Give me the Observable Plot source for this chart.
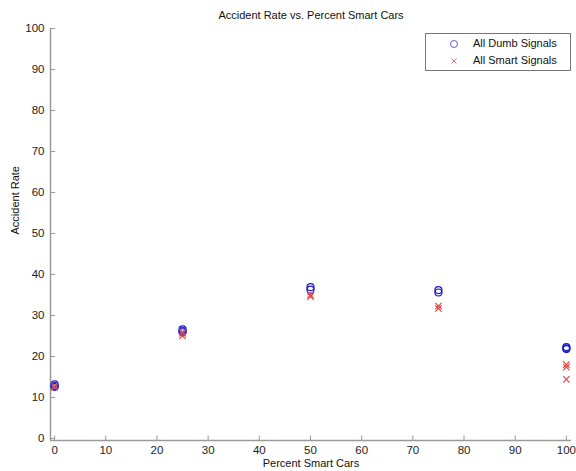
<!DOCTYPE html>
<html>
<head>
<meta charset="utf-8">
<script src="https://cdn.jsdelivr.net/npm/d3@7"></script>
<script src="https://cdn.jsdelivr.net/npm/@observablehq/plot@0.6"></script>
<style>
  html, body { margin: 0; padding: 0; background: #fff; }
  #wrap { position: relative; width: 576px; height: 471px; font-family: "Liberation Sans", Arial, sans-serif; }
  #legend { position: absolute; left: 425px; top: 33px; width: 144px; height: 36px; border: 1px solid #777; background: #fff; font-size: 11px; color: #111; }
  .row { position: absolute; left: 0; height: 17px; line-height: 17px; }
  .row svg { position: absolute; left: 22px; top: 3px; }
  .row span { position: absolute; left: 47px; white-space: nowrap; }
</style>
</head>
<body>
<div id="wrap"></div>
<script>
// Data
const percentSmart = [0, 25, 50, 75, 100];
const dumbX = [0, 0, 0, 25, 25, 25, 50, 50, 75, 75, 100, 100, 100];
const dumbY = [13.2, 12.8, 12.6, 26.6, 26.2, 25.9, 36.9, 36.3, 36.2, 35.6, 22.3, 22.0, 21.8];
const smartX = [0, 0, 25, 25, 25, 50, 50, 75, 75, 100, 100, 100];
const smartY = [12.9, 12.5, 26.0, 25.6, 25.0, 35.0, 34.6, 32.3, 31.7, 18.0, 17.4, 14.4];
const xTicks = [0, 10, 20, 30, 40, 50, 60, 70, 80, 90, 100];
const yTicks = [0, 10, 20, 30, 40, 50, 60, 70, 80, 90, 100];
const seriesNames = ["All Dumb Signals", "All Smart Signals"];
const title = "Accident Rate vs. Percent Smart Cars";
const xLabel = "Percent Smart Cars";
const yLabel = "Accident Rate";

const dumb = dumbX.map((x, i) => ({x, y: dumbY[i]}));
const smart = smartX.map((x, i) => ({x, y: smartY[i]}));

const blue = "#1a1acc";
const red = "#e0403c";
const axisGray = "#9a9a9a";

const chart = Plot.plot({
  width: 576,
  height: 471,
  marginLeft: 50,
  marginRight: 5,
  marginTop: 28,
  marginBottom: 31,
  style: {fontFamily: "Liberation Sans, Arial, sans-serif", fontSize: "11.5px", color: "#222", background: "#fff"},
  x: {domain: [-0.8, 101], ticks: xTicks},
  y: {domain: [-0.5, 100], ticks: yTicks},
  marks: [
    // axis lines
    Plot.ruleX([-0.8], {stroke: axisGray, strokeWidth: 1.5}),
    Plot.ruleY([-0.5], {stroke: axisGray, strokeWidth: 1.5}),
    // inward ticks
    Plot.ruleX(xTicks, {x: d => d, y1: -0.5, y2: 0.6, stroke: axisGray}),
    Plot.ruleY(yTicks, {y: d => d, x1: -0.8, x2: 0.2, stroke: axisGray}),
    Plot.axisX({ticks: xTicks, tickSize: 0, tickPadding: 5, label: null, fill: "#222"}),
    Plot.axisY({ticks: yTicks, tickSize: 0, tickPadding: 6, label: null, fill: "#222"}),
    // data
    Plot.dot(dumb, {x: "x", y: "y", r: 3.5, stroke: blue, strokeWidth: 1.2, fill: "none"}),
    Plot.dot(smart, {x: "x", y: "y", r: 3, symbol: "times", stroke: red, strokeWidth: 1.1}),
    // title and labels
    Plot.text([title], {frameAnchor: "top", dy: -17, fontSize: 11, fill: "#111"}),
    Plot.text([xLabel], {frameAnchor: "bottom", dy: 26, fontSize: 11, fill: "#111"}),
    Plot.text([yLabel], {frameAnchor: "left", dx: -35, rotate: -90, fontSize: 11, fill: "#111"})
  ]
});

const wrap = document.getElementById("wrap");
wrap.appendChild(chart);

// legend
const legend = document.createElement("div");
legend.id = "legend";
const mk = (i, svgInner, name) => {
  const row = document.createElement("div");
  row.className = "row";
  row.style.top = (1 + i * 17) + "px";
  row.innerHTML = `<svg width="12" height="12" viewBox="-6 -6 12 12">${svgInner}</svg><span>${name}</span>`;
  legend.appendChild(row);
};
mk(0, `<circle r="3.5" fill="none" stroke="${blue}" stroke-width="1" opacity="0.7"/>`, seriesNames[0]);
mk(1, `<path d="M-2.5,-2.5L2.5,2.5M-2.5,2.5L2.5,-2.5" stroke="${red}" stroke-width="1" opacity="0.7"/>`, seriesNames[1]);
wrap.appendChild(legend);
</script>
</body>
</html>
